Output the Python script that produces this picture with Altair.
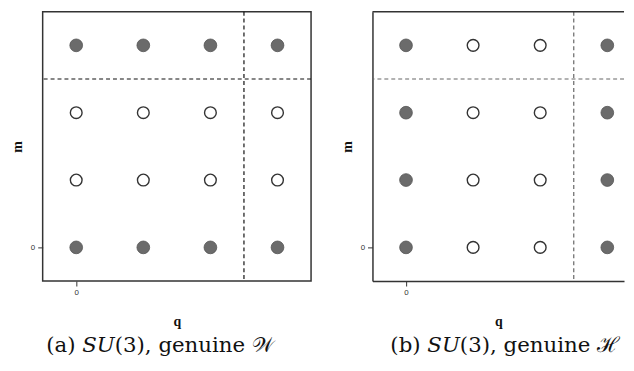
import altair as alt
import pandas as pd

# ---- data ----
q_grid = [0, 1, 2, 3] * 4
m_grid = [0] * 4 + [1] * 4 + [2] * 4 + [3] * 4
filled_a = [1, 1, 1, 1, 0, 0, 0, 0, 0, 0, 0, 0, 1, 1, 1, 1]   # genuine W
filled_b = [1, 0, 0, 1, 1, 0, 0, 1, 1, 0, 0, 1, 1, 0, 0, 1]   # genuine H
q_cut = [2.5]
m_cut = [2.5]
tick_vals = [0]
captions = ["(a) 𝑆𝑈(3), genuine 𝒲", "(b) 𝑆𝑈(3), genuine ℋ"]

SERIF = "Liberation Serif, DejaVu Serif, serif"
CAPTION_FONT = "DejaVu Serif, Liberation Serif, serif"
PX_PER_UNIT = 271 / 4.0


def panel(filled, caption, width, dash_color, framed, dx):
    df = pd.DataFrame({"q": q_grid, "m": m_grid, "filled": filled})
    xmax = -0.5 + width / PX_PER_UNIT
    xs = alt.Scale(domain=[-0.5, xmax], nice=False, zero=False)
    ys = alt.Scale(domain=[-0.5, 3.5], nice=False, zero=False)
    xax = alt.Axis(values=tick_vals, format="d", title="q", grid=False, domain=not framed,
                   domainColor="#333", domainWidth=1.5,
                   tickSize=5, tickColor="#333", labelFontSize=8, labelColor="#333",
                   labelPadding=3, titleFont=SERIF, titleFontWeight="bold",
                   titleFontSize=14, titlePadding=18, titleColor="#111")
    yax = alt.Axis(values=tick_vals, format="d", title="m", grid=False, domain=not framed,
                   domainColor="#333", domainWidth=1.5,
                   tickSize=5, tickColor="#333", labelFontSize=8, labelColor="#333",
                   labelPadding=3, titleFont=SERIF, titleFontWeight="bold",
                   titleFontSize=14, titlePadding=6, titleColor="#111")
    base = alt.Chart(df)
    full = base.transform_filter(alt.datum.filled == 1).mark_circle(
        size=165, color="#6b6b6b", stroke="#555", strokeWidth=0.8, opacity=1
    ).encode(x=alt.X("q:Q", scale=xs, axis=xax), y=alt.Y("m:Q", scale=ys, axis=yax))
    hollow = base.transform_filter(alt.datum.filled == 0).mark_circle(
        size=140, fill="white", stroke="#333", strokeWidth=1.4, opacity=1
    ).encode(x="q:Q", y="m:Q")
    vline = alt.Chart(pd.DataFrame({"q": q_cut})).mark_rule(
        color=dash_color, strokeDash=[4, 3], strokeWidth=1.2
    ).encode(x="q:Q")
    hline = alt.Chart(pd.DataFrame({"m": m_cut})).mark_rule(
        color=dash_color, strokeDash=[4, 3], strokeWidth=1.2
    ).encode(y="m:Q")
    layers = [vline, hline, full, hollow]
    if not framed:
        top = alt.Chart(pd.DataFrame({"m": [3.5]})).mark_rule(
            color="#333", strokeWidth=1.5
        ).encode(y="m:Q")
        layers.append(top)
    stroke = "#333" if framed else "transparent"
    ch = alt.layer(*layers).properties(
        width=width, height=272,
        view=alt.ViewBackground(stroke=stroke, strokeWidth=1.5),
        title=alt.TitleParams(caption, orient="bottom", font=CAPTION_FONT, fontSize=21.5,
                              fontWeight="normal", color="#111", offset=7,
                              anchor="middle", frame="group", dx=dx),
    )
    return ch


left = panel(filled_a, captions[0], 271, "#111", True, -17)
right = panel(filled_b, captions[1], 254, "#666", False, 7)

chart = alt.hconcat(left, right, spacing=26).properties(
    padding={"left": 1, "top": 0, "right": 0, "bottom": 0},
    background="white",
)

chart.save("out.html", embed_options={"renderer": "svg", "actions": False})
